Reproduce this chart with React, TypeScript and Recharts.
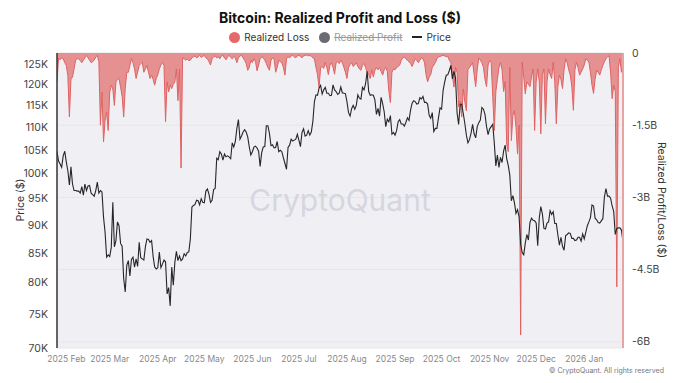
import React from 'react';
import { ComposedChart, Area, Line, XAxis, YAxis, CartesianGrid } from 'recharts';

const START = Date.UTC(2025, 0, 26);
const DAY = 86400000;

// Bitcoin price (thousand USD), one value per day
const priceK = [
  104.7, 102.6, 102.0, 101.3, 103.7, 104.7, 102.4,
  100.6, 97.7, 101.4, 97.9, 96.6, 96.6, 96.5, 96.5, 96.1, 97.4, 95.7, 97.9, 96.6, 97.5, 97.6, 96.1, 95.8, 95.5, 96.6, 98.3, 96.1, 96.6, 96.3, 91.5, 88.7, 84.3, 84.7, 84.4,
  86.0, 94.3, 86.1, 87.2, 90.6, 89.9, 86.7, 86.2, 80.7, 78.5, 82.9, 83.7, 81.1, 83.9, 84.3, 82.6, 84.0, 82.7, 86.9, 84.2, 84.0, 83.8, 86.1, 87.5, 87.4, 86.9, 87.2, 84.4, 82.6, 82.3, 82.5,
  85.2, 82.5, 83.1, 83.8, 83.5, 78.2, 79.2, 76.3, 82.6, 79.6, 83.4, 85.3, 83.7, 84.5, 83.7, 84.0, 84.9, 84.5, 85.1, 85.2, 87.5, 93.4, 93.7, 93.9, 94.7, 94.6, 93.8, 95.0, 94.3, 94.2,
  96.5, 96.9, 95.9, 94.3, 94.7, 96.8, 97.0, 103.2, 102.9, 104.6, 104.1, 102.8, 104.1, 103.5, 103.7, 103.5, 103.1, 106.5, 105.6, 106.8, 109.7, 111.7, 107.3, 108.0, 108.9, 109.4, 108.9, 107.8, 105.6, 103.9, 104.6,
  105.6, 105.8, 105.4, 104.7, 101.5, 104.4, 105.6, 105.7, 110.3, 110.3, 108.6, 105.9, 106.1, 105.4, 105.5, 106.8, 104.6, 104.9, 104.6, 103.3, 102.1, 100.9, 105.5, 106.0, 107.3, 106.9, 107.1, 107.3, 108.4, 107.1,
  105.7, 108.8, 109.6, 108.0, 108.2, 109.2, 108.2, 108.9, 111.3, 115.9, 117.5, 117.4, 119.1, 119.8, 117.7, 118.7, 119.3, 117.9, 117.9, 117.3, 117.4, 119.9, 118.7, 118.3, 117.6, 117.9, 119.4, 118.0, 117.9, 117.8, 115.8,
  113.3, 112.5, 114.2, 115.0, 114.1, 115.0, 117.5, 116.7, 116.5, 119.3, 118.7, 120.2, 123.3, 118.3, 117.4, 117.5, 117.4, 116.3, 112.9, 114.3, 112.5, 116.9, 115.4, 113.5, 110.1, 111.8, 111.2, 112.6, 108.4, 108.8, 108.2,
  109.2, 111.2, 111.7, 110.7, 110.7, 110.2, 111.1, 112.1, 111.5, 113.9, 115.5, 116.1, 115.9, 115.3, 115.4, 116.8, 116.5, 117.1, 115.7, 115.7, 115.3, 112.7, 112.0, 113.3, 109.0, 109.7, 109.7, 112.1, 114.4, 114.1,
  118.6, 120.6, 122.3, 122.4, 123.5, 124.8, 121.4, 123.3, 121.7, 113.2, 110.6, 115.2, 115.3, 113.1, 110.8, 108.2, 106.5, 107.2, 108.6, 110.6, 108.5, 107.6, 110.1, 111.0, 111.6, 114.5, 114.1, 112.9, 110.1, 108.3, 109.6,
  110.1, 110.6, 106.5, 101.6, 103.9, 101.3, 103.4, 102.3, 104.7, 106.0, 103.1, 101.7, 99.7, 94.6, 95.6, 94.2, 92.2, 92.9, 91.5, 86.6, 85.1, 84.7, 86.8, 88.3, 87.3, 90.5, 91.3, 90.9, 90.8, 90.4,
  86.3, 91.3, 93.5, 92.1, 89.4, 89.3, 90.4, 90.6, 92.7, 92.0, 92.5, 90.3, 90.3, 88.2, 86.4, 87.8, 86.2, 85.5, 88.1, 88.3, 88.6, 88.5, 87.6, 87.6, 87.2, 87.3, 87.8, 87.8, 87.1, 88.4, 87.5,
  88.7, 89.9, 90.6, 91.4, 93.8, 93.6, 91.3, 91.0, 90.5, 90.4, 90.8, 91.2, 95.3, 97.0, 95.5, 95.5, 95.1, 93.6, 92.6, 88.3, 89.4, 89.5, 89.5, 89.1, 87.0,
];

// Realized loss (billion USD), one value per day
const lossB = [
  -0.60, -0.11, -0.14, -0.10, -0.12, -0.20, -0.26, -0.47, -1.33, -0.54,
  -0.50, -0.33, -0.15, -0.12, -0.12, -0.16, -0.20, -0.15, -0.10, -0.05,
  -0.10, -0.15, -0.20, -0.18, -0.15, -0.08, -0.05, -0.18, -1.50, -0.81,
  -1.85, -1.40, -1.23, -1.61, -0.81, -0.67, -0.75, -1.09, -0.60, -0.55,
  -0.53, -0.71, -0.90, -1.33, -0.74, -0.40, -0.40, -0.26, -0.12, -0.20,
  -0.33, -0.53, -0.40, -0.26, -0.22, -0.19, -0.40, -0.33, -0.26, -0.40,
  -0.53, -0.46, -0.55, -0.67, -0.53, -0.45, -0.33, -0.25, -0.19, -0.26,
  -1.43, -0.60, -0.81, -0.67, -0.74, -0.65, -0.60, -0.33, -0.99, -0.33,
  -2.39, -0.10, -0.12, -0.15, -0.12, -0.16, -0.15, -0.10, -0.08, -0.06,
  -0.10, -0.08, -0.05, -0.09, -0.07, -0.05, -0.10, -0.12, -0.18, -0.25,
  -0.12, -0.08, -0.06, -0.10, -0.08, -0.12, -0.06, -0.05, -0.10, -0.14,
  -0.08, -0.05, -0.09, -0.12, -0.07, -0.10, -0.20, -0.10, -0.06, -0.05,
  -0.10, -0.15, -0.22, -0.36, -0.30, -0.15, -0.20, -0.12, -0.18, -0.37,
  -0.25, -0.12, -0.08, -0.10, -0.15, -0.22, -0.30, -0.36, -0.15, -0.10,
  -0.12, -0.40, -0.30, -0.15, -0.18, -0.20, -0.30, -0.46, -0.12, -0.08,
  -0.10, -0.06, -0.05, -0.08, -0.10, -0.06, -0.05, -0.07, -0.10, -0.06,
  -0.05, -0.04, -0.06, -0.05, -0.07, -0.10, -0.12, -0.30, -0.45, -0.72,
  -0.30, -0.28, -0.32, -0.20, -0.30, -0.45, -0.25, -0.20, -0.30, -0.44,
  -0.20, -0.18, -0.22, -0.15, -0.20, -0.30, -0.40, -0.53, -0.30, -0.24,
  -0.20, -0.28, -0.25, -0.20, -0.28, -0.33, -0.36, -0.25, -0.22, -0.30,
  -0.40, -0.45, -0.53, -0.35, -0.50, -0.36, -0.30, -0.35, -0.30, -0.38,
  -0.46, -0.35, -0.30, -0.38, -0.80, -1.03, -0.40, -0.33, -0.35, -0.30,
  -0.28, -0.25, -0.15, -0.10, -0.08, -0.12, -0.15, -0.18, -0.22, -0.28,
  -0.20, -0.12, -0.15, -0.20, -0.15, -0.10, -0.12, -0.20, -0.45, -0.60,
  -0.50, -0.45, -0.30, -0.25, -0.20, -0.12, -0.08, -0.07, -0.06, -0.05,
  -0.06, -0.08, -0.07, -0.15, -0.20, -0.47, -0.71, -0.30, -0.40, -1.12,
  -1.00, -1.33, -0.75, -1.02, -1.20, -0.35, -0.30, -0.25, -0.20, -0.45,
  -0.70, -0.35, -0.10, -0.15, -0.20, -0.30, -0.55, -0.70, -0.25, -0.15,
  -0.20, -0.90, -1.61, -0.80, -0.55, -0.30, -0.20, -0.35, -0.80, -0.60,
  -1.90, -2.05, -0.30, -1.82, -1.30, -1.20, -1.55, -2.10, -1.50, -5.86,
  -0.19, -0.50, -0.85, -0.60, -0.65, -0.70, -0.50, -0.33, -1.61, -0.60,
  -0.33, -0.60, -1.68, -0.45, -0.33, -1.47, -0.60, -0.33, -0.45, -0.53,
  -0.19, -0.60, -1.47, -0.70, -0.46, -0.55, -0.74, -0.35, -0.12, -0.20,
  -0.35, -0.46, -0.70, -1.19, -0.35, -0.19, -0.30, -0.46, -0.40, -0.33,
  -0.25, -0.12, -0.15, -0.19, -0.40, -0.67, -0.84, -0.55, -0.36, -0.40,
  -0.46, -0.35, -0.26, -0.18, -0.12, -0.08, -0.06, -0.40, -0.95, -0.67,
  -0.80, -4.86, -0.30, -0.12, -0.40, -0.30,
];

const monthTicks = [
  Date.UTC(2025, 1, 1), Date.UTC(2025, 2, 1), Date.UTC(2025, 3, 1), Date.UTC(2025, 4, 1),
  Date.UTC(2025, 5, 1), Date.UTC(2025, 6, 1), Date.UTC(2025, 7, 1), Date.UTC(2025, 8, 1),
  Date.UTC(2025, 9, 1), Date.UTC(2025, 10, 1), Date.UTC(2025, 11, 1), Date.UTC(2026, 0, 1),
];
const monthNames = ['Jan', 'Feb', 'Mar', 'Apr', 'May', 'Jun', 'Jul', 'Aug', 'Sep', 'Oct', 'Nov', 'Dec'];
const priceTicks = [70000, 75000, 80000, 85000, 90000, 95000, 100000, 105000, 110000, 115000, 120000, 125000];
const lossTicks = [0, -1.5, -3, -4.5, -6];

const data = priceK.map((p, i) => ({
  t: START + i * DAY,
  price: p * 1000,
  loss: lossB[i],
}));

const FONT = 'Inter, "Noto Sans", sans-serif';

export default function App() {
  return (
    <div style={{ position: 'absolute', left: 0, top: 0, width: 680, height: 383, background: '#fff', fontFamily: FONT, overflow: 'hidden' }}>
      <ComposedChart width={680} height={383} data={data} margin={{ top: 53, right: 0, bottom: 5, left: 0 }}>
        <CartesianGrid yAxisId="right" vertical={false} fill="#f0f0f4" stroke="#e5e5ea" />
        <XAxis
          dataKey="t"
          type="number"
          domain={[START, START + 365 * DAY]}
          ticks={monthTicks}
          tickFormatter={(v: number) => {
            const d = new Date(v);
            return `${d.getUTCFullYear()} ${monthNames[d.getUTCMonth()]}`;
          }}
          axisLine={false}
          tickLine={false}
          tickSize={0}
          tickMargin={8}
          height={30}
          allowDataOverflow
          tick={{ fontSize: 8.5, fill: '#888', fontFamily: FONT }}
        />
        <YAxis
          yAxisId="left"
          orientation="left"
          scale="log"
          domain={[70000, 128000]}
          ticks={priceTicks}
          allowDataOverflow
          tickFormatter={(v: number) => `${Math.round(v / 1000)}K`}
          width={57}
          axisLine={{ stroke: '#333', strokeWidth: 1.5 }}
          tickLine={false}
          tickSize={0}
          tickMargin={9}
          tick={{ fontSize: 10.5, fill: '#444', fontFamily: FONT }}
        />
        <YAxis
          yAxisId="right"
          orientation="right"
          domain={[-6.13, 0]}
          ticks={lossTicks}
          allowDataOverflow
          tickFormatter={(v: number) => (v === 0 ? '0' : `${v}B`)}
          width={57}
          axisLine={{ stroke: '#e8a3a3', strokeWidth: 2 }}
          tickLine={false}
          tickSize={0}
          tickMargin={9}
          tick={{ fontSize: 10.5, fill: '#444', fontFamily: FONT }}
        />
        <Area
          yAxisId="right"
          dataKey="loss"
          type="linear"
          baseValue={0}
          fill="#e06666"
          fillOpacity={0.7}
          stroke="#e06262"
          strokeWidth={1}
          dot={false}
          activeDot={false}
          isAnimationActive={false}
        />
        <Line
          yAxisId="left"
          dataKey="price"
          type="linear"
          stroke="#262626"
          strokeWidth={1.1}
          dot={false}
          activeDot={false}
          isAnimationActive={false}
        />
      </ComposedChart>

      <div style={{ position: 'absolute', top: 9, left: 0, width: 680, textAlign: 'center', fontSize: 14, fontWeight: 700, color: '#111' }}>
        Bitcoin: Realized Profit and Loss ($)
      </div>
      <div style={{ position: 'absolute', top: 31, left: 0, width: 680, display: 'flex', justifyContent: 'center', alignItems: 'center', fontSize: 10, color: '#333', gap: 10 }}>
        <span style={{ display: 'flex', alignItems: 'center', gap: 4 }}>
          <span style={{ width: 11, height: 11, borderRadius: 6, background: '#e5696b', display: 'inline-block' }} />
          Realized Loss
        </span>
        <span style={{ display: 'flex', alignItems: 'center', gap: 4, color: '#999' }}>
          <span style={{ width: 11, height: 11, borderRadius: 6, background: '#6b6b73', display: 'inline-block' }} />
          <span style={{ textDecoration: 'line-through' }}>Realized Profit</span>
        </span>
        <span style={{ display: 'flex', alignItems: 'center', gap: 4 }}>
          <span style={{ width: 10, height: 1.5, background: '#222', display: 'inline-block' }} />
          Price
        </span>
      </div>
      <div style={{ position: 'absolute', left: 20, top: 200, transform: 'translate(-50%, -50%) rotate(-90deg)', fontSize: 10.5, color: '#333', whiteSpace: 'nowrap' }}>
        Price ($)
      </div>
      <div style={{ position: 'absolute', left: 661, top: 200, transform: 'translate(-50%, -50%) rotate(90deg)', fontSize: 10.5, color: '#333', whiteSpace: 'nowrap' }}>
        Realized Profit/Loss ($)
      </div>
      <div style={{ position: 'absolute', left: 340, top: 200, transform: 'translate(-50%, -50%)', fontSize: 30, color: '#d6d6de', whiteSpace: 'nowrap', pointerEvents: 'none' }}>
        CryptoQuant
      </div>
      <div style={{ position: 'absolute', right: 16, top: 366, fontSize: 7, color: '#777', whiteSpace: 'nowrap' }}>
        © CryptoQuant. All rights reserved
      </div>
    </div>
  );
}
